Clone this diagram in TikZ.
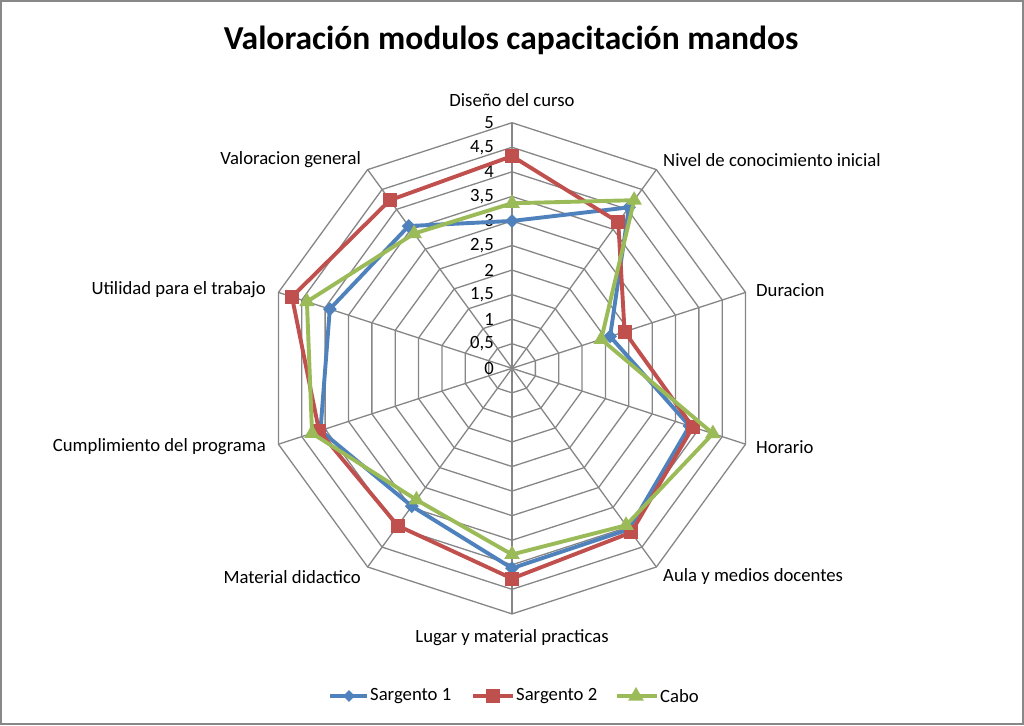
\documentclass[tikz,border=0pt]{standalone}
\usepackage{fontspec}
\setmainfont{Carlito}
\usetikzlibrary{shapes.geometric}
\definecolor{sblue}{HTML}{4F81BD}
\definecolor{sred}{HTML}{C0504D}
\definecolor{sgreen}{HTML}{9BBB59}
\definecolor{gridgray}{HTML}{868686}
\definecolor{framegray}{HTML}{888888}
\begin{document}
\begin{tikzpicture}[x=1pt,y=-1pt,
  lbl/.style={font=\fontsize{18.7}{22}\selectfont, inner sep=0pt},
  ticklbl/.style={lbl, anchor=east},
  gridline/.style={draw=gridgray, line width=1.3pt},
  series/.style={line width=3.9pt, line join=round},
  sqmark/.style={rectangle, minimum size=14pt, inner sep=0pt},
  dmmark/.style={diamond, minimum width=14pt, minimum height=14pt, inner sep=0pt},
  trmark/.style={regular polygon, regular polygon sides=3, minimum size=18pt, inner sep=0pt},
]
\useasboundingbox (0,0) rectangle (1024,725);
\draw[framegray, line width=1.5pt] (1,1) rectangle (1023,724);
\node[font=\fontsize{33.5}{40}\selectfont\bfseries, inner sep=0pt] (title) at (511,40) {Valoración modulos capacitación mandos};

\begin{scope}[shift={(512,368.3)}, y=1pt]
  \coordinate (O) at (0,0);
  \foreach \j in {1,...,10} {
    \draw[gridline] (90:{24.56*\j}) \foreach \k in {1,...,9} { -- (90-36*\k:{24.56*\j}) } -- cycle;
  }
  \foreach \k in {0,...,9} {
    \coordinate (ax\k) at (90-36*\k:245.6);
    \draw[gridline] (O) -- (ax\k);
  }
  \foreach \j/\t in {0/0, 1/{0,5}, 2/1, 3/{1,5}, 4/2, 5/{2,5}, 6/3, 7/{3,5}, 8/4, 9/{4,5}, 10/5} {
    \node[ticklbl] (tk\j) at (-18,{24.56*\j}) {\t};
  }
  % Sargento 1
  \foreach \k/\v in {0/3.0, 1/4.05, 2/2.1, 3/3.8, 4/4.05, 5/4.07, 6/3.47, 7/4.1, 8/3.9, 9/3.58} {
    \coordinate (a\k) at (90-36*\k:{\v*49.12});
  }
  \draw[series, sblue] (a0) -- (a1) -- (a2) -- (a3) -- (a4) -- (a5) -- (a6) -- (a7) -- (a8) -- (a9) -- cycle;
  \foreach \k in {0,...,9} { \node[dmmark, fill=sblue] (ma\k) at (a\k) {}; }
  % Sargento 2
  \foreach \k/\v in {0/4.32, 1/3.68, 2/2.41, 3/3.87, 4/4.13, 5/4.28, 6/3.96, 7/4.13, 8/4.71, 9/4.23} {
    \coordinate (b\k) at (90-36*\k:{\v*49.12});
  }
  \draw[series, sred] (b0) -- (b1) -- (b2) -- (b3) -- (b4) -- (b5) -- (b6) -- (b7) -- (b8) -- (b9) -- cycle;
  \foreach \k in {0,...,9} { \node[sqmark, fill=sred] (mb\k) at (b\k) {}; }
  % Cabo
  \foreach \k/\v in {0/3.36, 1/4.23, 2/1.91, 3/4.3, 4/3.95, 5/3.79, 6/3.31, 7/4.28, 8/4.39, 9/3.39} {
    \coordinate (c\k) at (90-36*\k:{\v*49.12});
  }
  \draw[series, sgreen] (c0) -- (c1) -- (c2) -- (c3) -- (c4) -- (c5) -- (c6) -- (c7) -- (c8) -- (c9) -- cycle;
  \foreach \k in {0,...,9} { \node[trmark, fill=sgreen] (mc\k) at (c\k) {}; }
\end{scope}

% axis labels
\node[lbl] (l0) at (512,100) {Diseño del curso};
\node[lbl, anchor=west] (l1) at (663,160) {Nivel de conocimiento inicial};
\node[lbl, anchor=west] (l2) at (756,290) {Duracion};
\node[lbl, anchor=west] (l3) at (756,447) {Horario};
\node[lbl, anchor=west] (l4) at (663,577) {Aula y medios docentes};
\node[lbl] (l5) at (512,638) {Lugar y material practicas};
\node[lbl, anchor=east] (l6) at (361,577) {Material didactico};
\node[lbl, anchor=east] (l7) at (266,447) {Cumplimiento del programa};
\node[lbl, anchor=east] (l8) at (266,290) {Utilidad para el trabajo};
\node[lbl, anchor=east] (l9) at (361,160) {Valoracion general};

% legend
\coordinate (la1) at (330,696); \coordinate (la2) at (367,696);
\draw[series, sblue] (la1) -- (la2);
\node[dmmark, fill=sblue, minimum width=12pt, minimum height=12pt] (lma) at (349,696) {};
\node[lbl, anchor=west] (lta) at (370,696) {Sargento 1};
\coordinate (lb1) at (473,696); \coordinate (lb2) at (513,696);
\draw[series, sred] (lb1) -- (lb2);
\node[sqmark, fill=sred] (lmb) at (493,696) {};
\node[lbl, anchor=west] (ltb) at (516,696) {Sargento 2};
\coordinate (lc1) at (617,696); \coordinate (lc2) at (657,696);
\draw[series, sgreen] (lc1) -- (lc2);
\node[trmark, fill=sgreen] (lmc) at (636,696) {};
\node[lbl, anchor=west] (ltc) at (660,696) {Cabo};
\end{tikzpicture}
\end{document}
